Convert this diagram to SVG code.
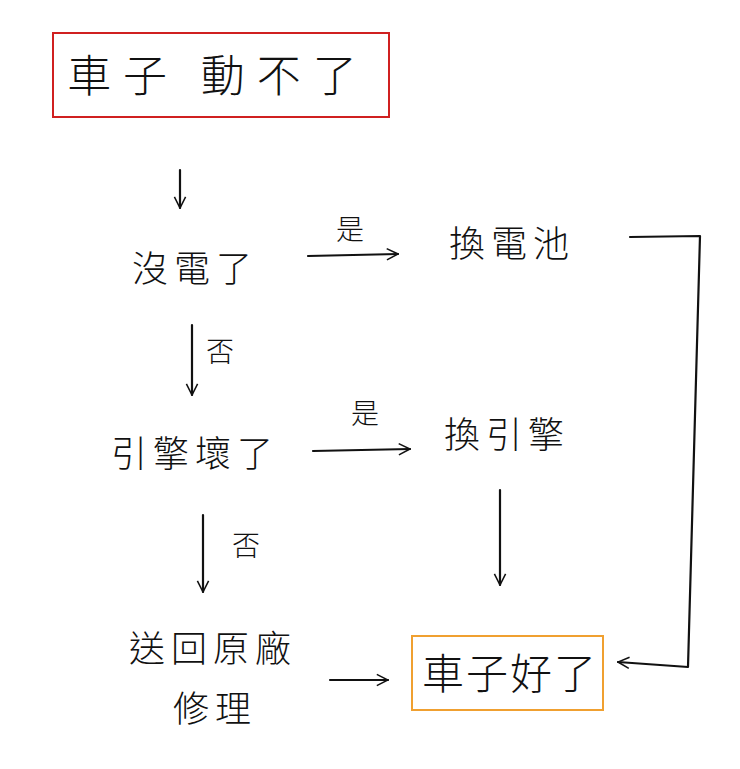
<svg xmlns="http://www.w3.org/2000/svg" width="740" height="769" viewBox="0 0 740 769">
<style>
text{font-family:"Noto Sans CJK TC","Noto Sans CJK SC",sans-serif;fill:#111;text-anchor:middle}
.big{font-size:44px;font-weight:300;letter-spacing:6px}
.mid{font-size:36px;font-weight:300;letter-spacing:6px}
.lab{font-size:28px;font-weight:300}
.c{fill:none;stroke:#111;stroke-width:2.2;stroke-linecap:round;stroke-linejoin:round}
</style>
<defs>
<marker id="ah" viewBox="0 0 20 20" refX="18" refY="10" markerWidth="14" markerHeight="14" markerUnits="userSpaceOnUse" orient="auto">
<path d="M2 2 L18 10 L2 18" fill="none" stroke="#111" stroke-width="2.2"/>
</marker>
</defs>
<rect width="740" height="769" fill="#fff"/>
<g id="start"><rect x="53" y="33" width="336" height="84" fill="none" stroke="#d02020" stroke-width="2"/><text class="big" x="218" y="92" style="letter-spacing:12px">車子 動不了</text></g>
<g id="nobattery"><text class="mid" x="195" y="282">沒電了</text></g>
<g id="replacebattery"><text class="mid" x="512" y="257">換電池</text></g>
<g id="engine"><text class="mid" x="195" y="467">引擎壞了</text></g>
<g id="replaceengine"><text class="mid" x="507" y="448">換引擎</text></g>
<g id="factory"><text class="mid" x="213" y="662">送回原廠</text><text class="mid" x="215" y="722">修理</text></g>
<g id="fixed"><rect x="412" y="636" width="191" height="74" fill="none" stroke="#f0a030" stroke-width="2"/><text class="big" x="510" y="689" style="font-size:42px;letter-spacing:2px">車子好了</text></g>
<g id="connectors">
<path class="c" d="M180 170 L180 208" marker-end="url(#ah)"/>
<path class="c" d="M308 256 L398 254" marker-end="url(#ah)"/>
<text class="lab" x="350" y="240">是</text>
<path class="c" d="M630 237 L700 236 L688 667 L618 662" marker-end="url(#ah)"/>
<path class="c" d="M192 325 L192 395" marker-end="url(#ah)"/>
<text class="lab" x="220" y="362">否</text>
<path class="c" d="M313 451 L410 449" marker-end="url(#ah)"/>
<text class="lab" x="365" y="424">是</text>
<path class="c" d="M500 490 L500 585" marker-end="url(#ah)"/>
<path class="c" d="M203 515 L203 592" marker-end="url(#ah)"/>
<text class="lab" x="246" y="556">否</text>
<path class="c" d="M330 680 L388 680" marker-end="url(#ah)"/>
</g>
</svg>
